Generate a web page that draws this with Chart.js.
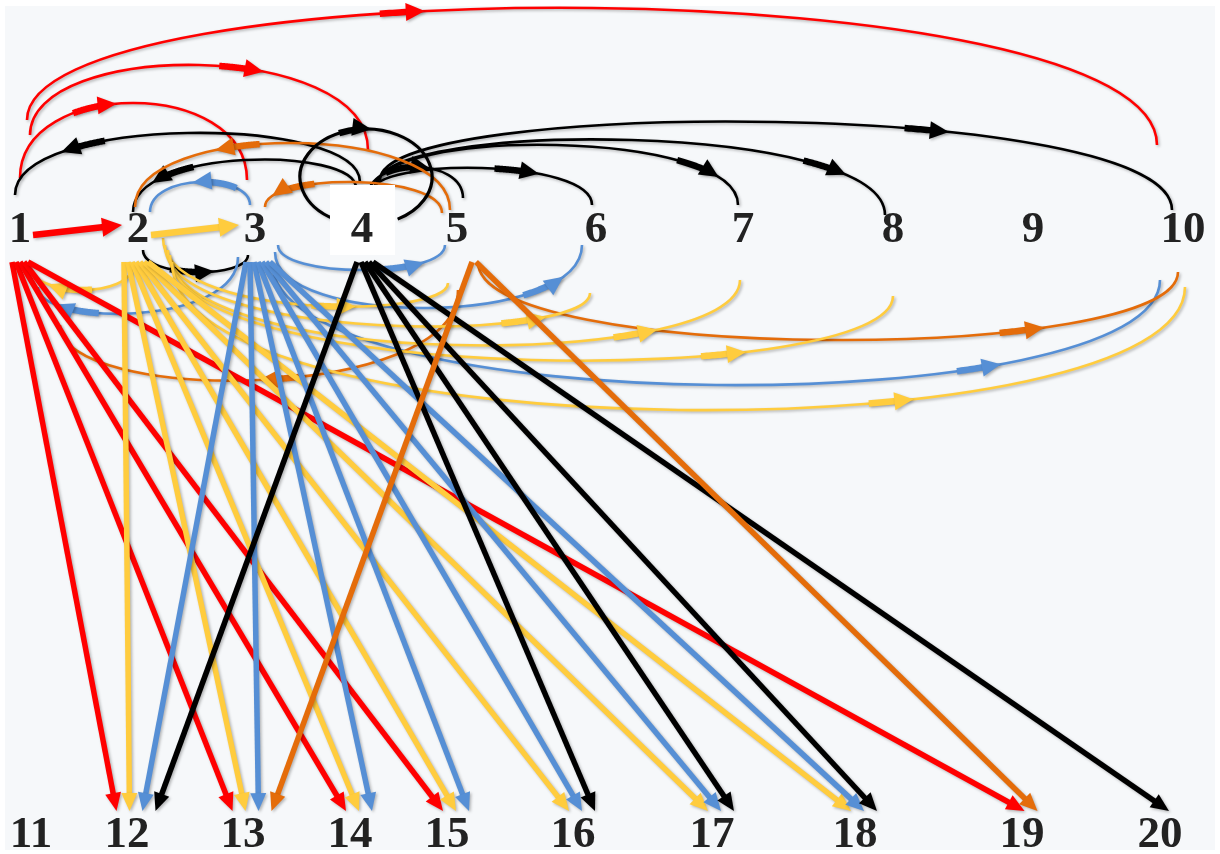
<!DOCTYPE html>
<html>
<head>
<meta charset="utf-8">
<script src="https://cdn.jsdelivr.net/npm/chart.js@4.4.1/dist/chart.umd.min.js"></script>
<style>
  html, body { margin: 0; padding: 0; background: #ffffff; }
  #contenedor { width: 1220px; height: 854px; }
</style>
</head>
<body>
<div id="contenedor"><canvas id="grafoChart" width="1220" height="854"></canvas></div>
<script>
// Nodos (fila superior e inferior)
const nodosArriba = ['1', '2', '3', '4', '5', '6', '7', '8', '9', '10'];
const xArriba = [20, 138, 255, 362, 457, 596, 743, 893, 1033, 1183];
const nodosAbajo = ['11', '12', '13', '14', '15', '16', '17', '18', '19', '20'];
const xAbajo = [31, 127, 243, 350, 447, 573, 712, 855, 1022, 1160];
const filaArriba = 228;
const filaAbajo = 833;

// Flechas rectas hacia la fila inferior
const destinosDe1 = [12, 13, 14, 15, 19];
const destinosDe2 = [12, 13, 14, 15, 16, 17, 18];
const destinosDe3 = [12, 13, 14, 15, 16, 17, 18];
const destinosDe4 = [12, 16, 17, 18, 20];
const destinosDe5 = [13, 19];

// Flechas rectas dentro de la fila superior
const rectasArriba = [[1, 2, 'rojo'], [2, 3, 'amarillo']];

// Arcos [origen, destino, color]
const arcos = [
    [1, 3, 'rojo'], [1, 4, 'rojo'], [1, 10, 'rojo'],
    [4, 1, 'negro'], [4, 2, 'negro'], [4, 5, 'negro'], [4, 6, 'negro'],
    [4, 7, 'negro'], [4, 8, 'negro'], [4, 10, 'negro'],
    [5, 2, 'naranja'], [5, 3, 'naranja'], [3, 2, 'azul'],
    [2, 3, 'negro'], [3, 1, 'azul'], [2, 1, 'amarillo'], [3, 5, 'azul'],
    [3, 6, 'azul'], [3, 10, 'azul'], [5, 1, 'naranja'], [5, 10, 'naranja'],
    [2, 5, 'amarillo'], [2, 6, 'amarillo'], [2, 7, 'amarillo'],
    [2, 8, 'amarillo'], [2, 10, 'amarillo']
];

// Forma de cada arco: [dx salida, dy salida, dx llegada, dy llegada, altura extrema, posicion flecha]
const formaArcos = [
    [0, -50, -8, -48, -125, 0.45],
    [10, -93, 6, -78, -163, 0.63],
    [7, -108, -26, -83, -220, 0.40],
    [-2, -46, -5, -33, -95, 0.77],
    [-6, -40, -5, -16, -68, 0.82],
    [6, -31, 6, -30, -61, 0.60],
    [10, -36, -4, -23, -60, 0.68],
    [13, -40, -5, -23, -83, 0.86],
    [16, -44, -8, -13, -88, 0.83],
    [18, -48, -11, -18, -106, 0.65],
    [-7, -18, -3, -21, -85, 0.67],
    [-15, -15, 10, -21, -46, 0.88],
    [-5, -23, 12, -16, -46, 0.55],
    [5, 22, -7, 27, 44, 0.62],
    [-17, 29, 18, 59, 85, 0.82],
    [-5, 37, 8, 34, 62, 0.72],
    [23, 17, -12, 17, 42, 0.78],
    [20, 24, -14, 17, 80, 0.85],
    [17, 34, -23, 52, 157, 0.73],
    [1, 62, 40, 97, 152, 0.50],
    [21, 34, -5, 44, 112, 0.72],
    [25, 10, -9, 55, 77, 0.62],
    [27, 17, -6, 65, 97, 0.80],
    [30, 22, -3, 52, 117, 0.76],
    [32, 27, 0, 68, 132, 0.71],
    [34, 34, 2, 59, 182, 0.66]
];

const salidaDx = [0, -2, 3, 3, 17];

const colores = {
    rojo: '#FF0000',
    amarillo: '#FFCC3E',
    azul: '#568FD5',
    negro: '#000000',
    naranja: '#E46C0A'
};

function bezier(p, t) {
    const u = 1 - t;
    return {
        x: u * u * u * p[0] + 3 * u * u * t * p[2] + 3 * u * t * t * p[4] + t * t * t * p[6],
        y: u * u * u * p[1] + 3 * u * u * t * p[3] + 3 * u * t * t * p[5] + t * t * t * p[7]
    };
}

function punta(ctx, x, y, ang, largo, ancho, color) {
    ctx.save();
    ctx.translate(x, y);
    ctx.rotate(ang);
    ctx.fillStyle = color;
    ctx.beginPath();
    ctx.moveTo(0, 0);
    ctx.lineTo(-largo, -ancho / 2);
    ctx.lineTo(-largo, ancho / 2);
    ctx.closePath();
    ctx.fill();
    ctx.restore();
}

function dibujarArco(ctx, p, color, t) {
    ctx.strokeStyle = color;
    ctx.lineWidth = 2.6;
    ctx.beginPath();
    ctx.moveTo(p[0], p[1]);
    ctx.bezierCurveTo(p[2], p[3], p[4], p[5], p[6], p[7]);
    ctx.stroke();

    const cabeza = bezier(p, t);
    const antes = bezier(p, t - 0.004);
    const ang = Math.atan2(cabeza.y - antes.y, cabeza.x - antes.x);
    // cola gruesa de la flecha
    let t2 = t;
    while (t2 > 0 && Math.hypot(bezier(p, t2).x - cabeza.x, bezier(p, t2).y - cabeza.y) < 44) t2 -= 0.002;
    ctx.lineWidth = 6.5;
    ctx.beginPath();
    let primero = true;
    for (let s = t2; s <= t; s += 0.002) {
        const q = bezier(p, s);
        if (Math.hypot(q.x - cabeza.x, q.y - cabeza.y) < 12) break;
        if (primero) { ctx.moveTo(q.x, q.y); primero = false; } else ctx.lineTo(q.x, q.y);
    }
    ctx.stroke();
    punta(ctx, cabeza.x, cabeza.y, ang, 19, 18, color);
}

function dibujarRecta(ctx, x0, y0, x1, y1, color, grosor, largo, ancho) {
    const ang = Math.atan2(y1 - y0, x1 - x0);
    const xb = x1 - Math.cos(ang) * (largo - 2);
    const yb = y1 - Math.sin(ang) * (largo - 2);
    ctx.strokeStyle = color;
    ctx.lineWidth = grosor;
    ctx.beginPath();
    ctx.moveTo(x0, y0);
    ctx.lineTo(xb, yb);
    ctx.stroke();
    punta(ctx, x1, y1, ang, largo, ancho, color);
}

const pluginGrafo = {
    id: 'pluginGrafo',
    beforeDraw(chart) {
        const ctx = chart.ctx;
        ctx.save();
        ctx.fillStyle = '#ffffff';
        ctx.fillRect(0, 0, chart.width, chart.height);
        ctx.fillStyle = '#F6F8FA';
        ctx.fillRect(5, 6, chart.width - 10, chart.height - 10);
        ctx.restore();
    },
    afterDatasetsDraw(chart) {
        const ctx = chart.ctx;
        const px = v => chart.scales.x.getPixelForValue(v);
        const py = v => chart.scales.y.getPixelForValue(v);

        ctx.save();
        ctx.lineCap = 'butt';
        ctx.shadowColor = 'rgba(0,0,0,0.28)';
        ctx.shadowBlur = 3;
        ctx.shadowOffsetX = 1.5;
        ctx.shadowOffsetY = 1.5;

        // arcos por debajo de la fila superior
        arcos.forEach((a, i) => {
            const f = formaArcos[i];
            if (f[4] < 0) return;
            trazarArco(a, f);
        });

        // flechas rectas hacia abajo
        const grupos = [destinosDe1, destinosDe2, destinosDe3, destinosDe4, destinosDe5];
        const nombres = ['rojo', 'amarillo', 'azul', 'negro', 'naranja'];
        const llegadas = {};
        grupos.forEach((dest, s) => dest.forEach(d => {
            (llegadas[d] = llegadas[d] || []).push(s);
        }));
        grupos.forEach((dest, s) => {
            dest.forEach((d, k) => {
                const lista = llegadas[d];
                const pos = lista.indexOf(s);
                const dxL = (pos - (lista.length - 1) / 2) * 13 + 9;
                const dxS = (k - (dest.length - 1) / 2) * 4 + salidaDx[s];
                dibujarRecta(ctx,
                    px(xArriba[s] + dxS), py(filaArriba + 34),
                    px(xAbajo[d - 11] + dxL), py(filaAbajo - 22),
                    colores[nombres[s]], 5.5, 18, 16);
            });
        });

        // arcos por encima
        arcos.forEach((a, i) => {
            const f = formaArcos[i];
            if (f[4] > 0) return;
            trazarArco(a, f);
        });

        // lazo alrededor del nodo 4
        const cx = px(xArriba[3] + 4), cy = py(filaArriba - 51);
        const rx = px(xArriba[3] + 70) - px(xArriba[3] + 4);
        const ry = py(filaArriba - 3) - py(filaArriba - 51);
        ctx.strokeStyle = colores.negro;
        ctx.lineWidth = 3.2;
        ctx.beginPath();
        ctx.ellipse(cx, cy, rx, ry, 0, Math.PI / 2 + 0.5, Math.PI / 2 - 0.5 + Math.PI * 2);
        ctx.stroke();
        ctx.lineWidth = 6.5;
        ctx.beginPath();
        ctx.ellipse(cx, cy, rx, ry, 0, Math.PI * 1.5 - 0.42, Math.PI * 1.5 - 0.1);
        ctx.stroke();
        punta(ctx, cx + rx * Math.cos(Math.PI * 1.5 + 0.08), cy + ry * Math.sin(Math.PI * 1.5 + 0.08), 0.12, 19, 18, colores.negro);

        // flechas rectas en la fila superior
        rectasArriba.forEach(r => {
            dibujarRecta(ctx,
                px(xArriba[r[0] - 1] + 13), py(filaArriba + 7),
                px(xArriba[r[1] - 1] - 16), py(filaArriba - 3),
                colores[r[2]], 6.5, 20, 19);
        });
        ctx.restore();

        // caja blanca del nodo 4
        ctx.save();
        ctx.fillStyle = '#ffffff';
        ctx.fillRect(px(xArriba[3] - 32), py(filaArriba - 43), px(xArriba[3] + 33) - px(xArriba[3] - 32), py(filaArriba + 27) - py(filaArriba - 43));

        // etiquetas
        ctx.fillStyle = '#222222';
        ctx.font = 'bold 45px "Liberation Serif", "Times New Roman", serif';
        ctx.textAlign = 'center';
        ctx.textBaseline = 'middle';
        nodosArriba.forEach((n, i) => ctx.fillText(n, px(xArriba[i]), py(filaArriba + 2)));
        nodosAbajo.forEach((n, i) => ctx.fillText(n, px(xAbajo[i]), py(filaAbajo + 2)));
        ctx.restore();

        function trazarArco(a, f) {
            const x0 = xArriba[a[0] - 1] + f[0], y0 = filaArriba + f[1];
            const x1 = xArriba[a[1] - 1] + f[2], y1 = filaArriba + f[3];
            const ye = filaArriba + f[4];
            const c = (ye - (y0 + y1) / 8) / 0.75;
            const p = [px(x0), py(y0), px(x0), py(c), px(x1), py(c), px(x1), py(y1)];
            dibujarArco(ctx, p, colores[a[2]], f[5]);
        }
    }
};

function inicializarGrafo() {
    const ctx = document.getElementById('grafoChart').getContext('2d');
    new Chart(ctx, {
        type: 'scatter',
        data: {
            datasets: [{
                label: 'Nodos superiores',
                data: xArriba.map(x => ({ x: x, y: filaArriba })),
                pointRadius: 0
            }, {
                label: 'Nodos inferiores',
                data: xAbajo.map(x => ({ x: x, y: filaAbajo })),
                pointRadius: 0
            }]
        },
        options: {
            responsive: false,
            devicePixelRatio: 1,
            animation: false,
            layout: { padding: 0 },
            plugins: { legend: { display: false }, tooltip: { enabled: false } },
            scales: {
                x: { type: 'linear', min: 0, max: 1220, display: false },
                y: { type: 'linear', min: 0, max: 854, reverse: true, display: false }
            }
        },
        plugins: [pluginGrafo]
    });
}

document.addEventListener('DOMContentLoaded', inicializarGrafo);
</script>
</body>
</html>
